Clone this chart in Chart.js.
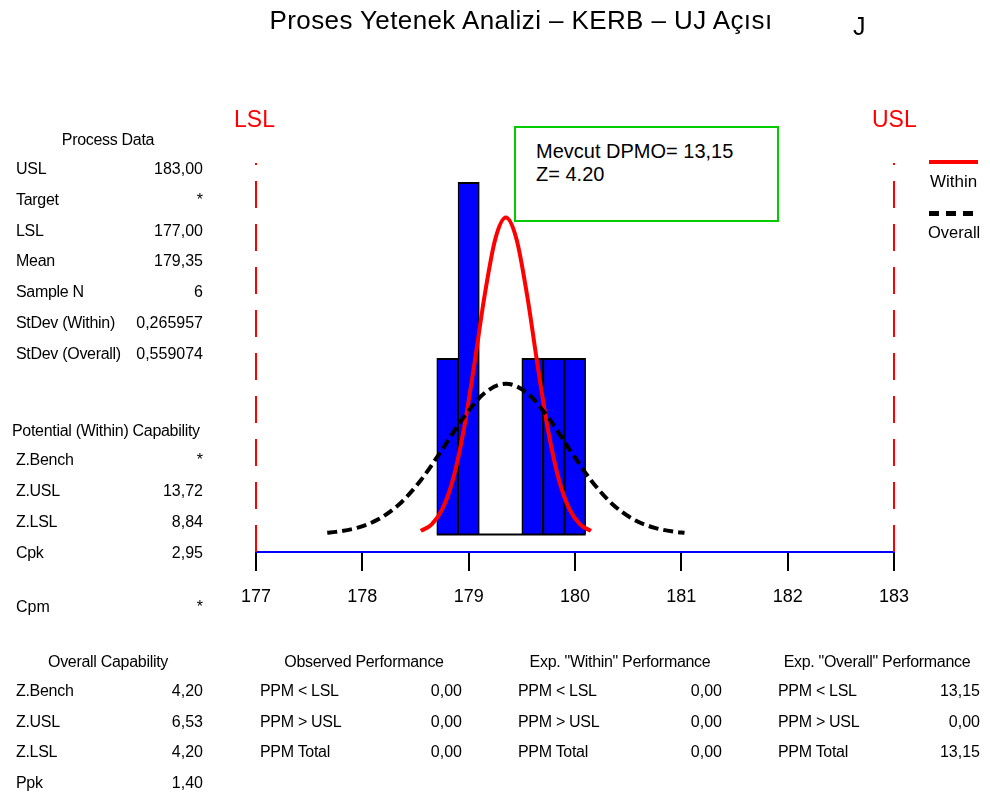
<!DOCTYPE html>
<html>
<head>
<meta charset="utf-8">
<script src="https://cdn.jsdelivr.net/npm/chart.js@4"></script>
<style>
  html, body { margin: 0; padding: 0; background: #fff; }
  #wrap { position: relative; width: 990px; height: 796px; overflow: hidden; font-family: "Liberation Sans", Arial, sans-serif; color: #000; }
  #c { position: absolute; left: 0; top: 0; }
  .t { position: absolute; white-space: nowrap; line-height: 1; transform: translateY(-50%); }
  .box { position: absolute; box-sizing: border-box; }
</style>
</head>
<body>
<div id="wrap">
  <canvas id="c" width="990" height="796"></canvas>
</div>
<script>
// Specification limits and histogram
const LSL = 177;
const USL = 183;
const xTicks = [177, 178, 179, 180, 181, 182, 183];
const binEdges = [178.7, 178.9, 179.1, 179.3, 179.5, 179.7, 179.9, 180.1];
const binCounts = [1, 2, 0, 0, 1, 1, 1];

// Fitted normal curves, in histogram count units
const withinX = [178.55, 178.65, 178.75, 178.85, 178.95, 179.05, 179.15, 179.25, 179.35,
                 179.45, 179.55, 179.65, 179.75, 179.85, 179.95, 180.05, 180.15];
const withinY = [0.02, 0.056, 0.141, 0.307, 0.581, 0.953, 1.357, 1.677, 1.8,
                 1.677, 1.357, 0.953, 0.581, 0.307, 0.141, 0.056, 0.02];
const overallX = [177.67, 177.75, 177.95, 178.15, 178.35, 178.55, 178.75, 178.95, 179.15, 179.35,
                  179.55, 179.75, 179.95, 180.15, 180.35, 180.55, 180.75, 180.95, 181.03];
const overallY = [0.0094, 0.0143, 0.0372, 0.0855, 0.173, 0.308, 0.481, 0.663, 0.803, 0.856,
                  0.803, 0.663, 0.481, 0.308, 0.173, 0.0855, 0.0372, 0.0143, 0.0094];

// Value axis range (hidden axis)
const yMin = -0.1;
const yMax = 2.11;

// Text panels
const processData = [["USL", "183,00"], ["Target", "*"], ["LSL", "177,00"], ["Mean", "179,35"],
                     ["Sample N", "6"], ["StDev (Within)", "0,265957"], ["StDev (Overall)", "0,559074"]];
const withinCap = [["Z.Bench", "*"], ["Z.USL", "13,72"], ["Z.LSL", "8,84"], ["Cpk", "2,95"]];
const overallCap = [["Z.Bench", "4,20"], ["Z.USL", "6,53"], ["Z.LSL", "4,20"], ["Ppk", "1,40"]];
const observedPerf = [["PPM < LSL", "0,00"], ["PPM > USL", "0,00"], ["PPM Total", "0,00"]];
const withinPerf = [["PPM < LSL", "0,00"], ["PPM > USL", "0,00"], ["PPM Total", "0,00"]];
const overallPerf = [["PPM < LSL", "13,15"], ["PPM > USL", "0,00"], ["PPM Total", "13,15"]];

const wrap = document.getElementById('wrap');
function put(text, x, y, opt) {
  opt = opt || {};
  const d = document.createElement('div');
  d.className = 't';
  d.textContent = text;
  d.style.fontSize = (opt.size || 16) + 'px';
  if (opt.color) d.style.color = opt.color;
  if (opt.spacing) d.style.letterSpacing = opt.spacing + 'px';
  d.style.top = y + 'px';
  if (opt.align === 'right') {
    d.style.right = (990 - x) + 'px';
  } else if (opt.align === 'center') {
    d.style.left = x + 'px';
    d.style.transform = 'translate(-50%, -50%)';
  } else {
    d.style.left = x + 'px';
  }
  wrap.appendChild(d);
  return d;
}
function rect(x, y, w, h, css) {
  const d = document.createElement('div');
  d.className = 'box';
  d.style.left = x + 'px'; d.style.top = y + 'px';
  d.style.width = w + 'px'; d.style.height = h + 'px';
  Object.assign(d.style, css);
  wrap.appendChild(d);
  return d;
}
function table(rows, xl, xr, y0, dy, size) {
  rows.forEach((r, i) => {
    put(r[0], xl, y0 + i * dy, { size: size, spacing: -0.3 });
    put(r[1], xr, y0 + i * dy, { size: size, align: 'right' });
  });
}

// Title
put('Proses Yetenek Analizi – KERB – UJ Açısı', 521, 20, { size: 26, align: 'center', spacing: 0.4 });
put('J', 853, 26, { size: 25 });

// Left panel
put('Process Data', 108, 140, { size: 16, align: 'center', spacing: -0.3 });
table(processData, 16, 203, 169, 30.8, 16);
put('Potential (Within) Capability', 12, 431, { size: 16, spacing: -0.3 });
table(withinCap, 16, 203, 460, 31, 16);
put('Cpm', 16, 607, { size: 16 });
put('*', 203, 607, { size: 16, align: 'right' });

// Bottom panels
put('Overall Capability', 108, 662, { size: 16, align: 'center', spacing: -0.3 });
table(overallCap, 16, 203, 691, 30.7, 16);
put('Observed Performance', 364, 662, { size: 16, align: 'center', spacing: -0.3 });
table(observedPerf, 260, 462, 691, 30.7, 16);
put('Exp. "Within" Performance', 620, 662, { size: 16, align: 'center', spacing: -0.3 });
table(withinPerf, 518, 722, 691, 30.7, 16);
put('Exp. "Overall" Performance', 877, 662, { size: 16, align: 'center', spacing: -0.3 });
table(overallPerf, 778, 980, 691, 30.7, 16);

// Spec limit labels
put('LSL', 234, 119, { size: 23, color: '#FF0000' });
put('USL', 872, 119, { size: 23, color: '#FF0000' });

// DPMO note
rect(514, 126, 265, 96, { border: '2px solid #00CC00', background: '#fff' });
put('Mevcut DPMO= 13,15', 536, 151, { size: 20 });
put('Z= 4.20', 536, 174, { size: 20 });

// Legend
rect(929, 160, 49, 4, { background: '#FF0000' });
put('Within', 930, 181, { size: 17 });
rect(929, 211, 10, 5, { background: '#000' });
rect(946, 211, 10, 5, { background: '#000' });
rect(963, 211, 10, 5, { background: '#000' });
put('Overall', 928, 232, { size: 16.5 });

const binCenters = binCounts.map((_, i) => (binEdges[i] + binEdges[i + 1]) / 2);
const barData = binCounts.map((c, i) => ({ x: binCenters[i], y: c }));
const baseData = [{ x: binEdges[0], y: 0 }, { x: binEdges[binEdges.length - 1], y: 0 }];
const withinData = withinX.map((x, i) => ({ x: x, y: withinY[i] }));
const overallData = overallX.map((x, i) => ({ x: x, y: overallY[i] }));
const specLine = v => [{ x: v, y: yMin }, { x: v, y: yMax }];

new Chart(document.getElementById('c'), {
  type: 'bar',
  data: {
    datasets: [
      {
        type: 'bar', data: barData, order: 5,
        backgroundColor: '#0000FF', borderColor: '#000',
        borderWidth: { top: 2, left: 1.5, right: 1.5, bottom: 0 }, borderSkipped: 'start',
        barPercentage: 1, categoryPercentage: 1
      },
      {
        type: 'line', data: baseData, order: 4,
        borderColor: '#000', borderWidth: 2, pointRadius: 0
      },
      {
        type: 'line', data: specLine(LSL), order: 4, clip: false,
        borderColor: '#FF0000', borderWidth: 2, borderDash: [27, 16], pointRadius: 0
      },
      {
        type: 'line', data: specLine(USL), order: 4, clip: false,
        borderColor: '#FF0000', borderWidth: 2, borderDash: [27, 16], pointRadius: 0
      },
      {
        type: 'line', label: 'Within', data: withinData, order: 2,
        borderColor: '#FF0000', borderWidth: 4, pointRadius: 0,
        cubicInterpolationMode: 'monotone'
      },
      {
        type: 'line', label: 'Overall', data: overallData, order: 1,
        borderColor: '#000', borderWidth: 4, borderDash: [10, 5], pointRadius: 0,
        cubicInterpolationMode: 'monotone'
      }
    ]
  },
  options: {
    responsive: false,
    animation: false,
    devicePixelRatio: 1,
    layout: { padding: { left: 256, right: 96, top: 163, bottom: 184 } },
    plugins: { legend: { display: false }, tooltip: { enabled: false } },
    scales: {
      x: {
        type: 'linear', min: LSL, max: USL, offset: false,
        afterBuildTicks: s => { s.ticks = xTicks.map(v => ({ value: v })); },
        afterFit: s => { s.height = 60; },
        ticks: { color: '#000', padding: 15, autoSkip: false, maxRotation: 0,
                 font: { family: '"Liberation Sans", Arial, sans-serif', size: 18 } },
        grid: { display: true, drawOnChartArea: false, drawTicks: true, tickLength: 19,
                color: '#000', lineWidth: 2, offset: false },
        border: { display: true, color: '#0000FF', width: 2 }
      },
      y: { display: false, min: yMin, max: yMax }
    }
  }
});
</script>
</body>
</html>
